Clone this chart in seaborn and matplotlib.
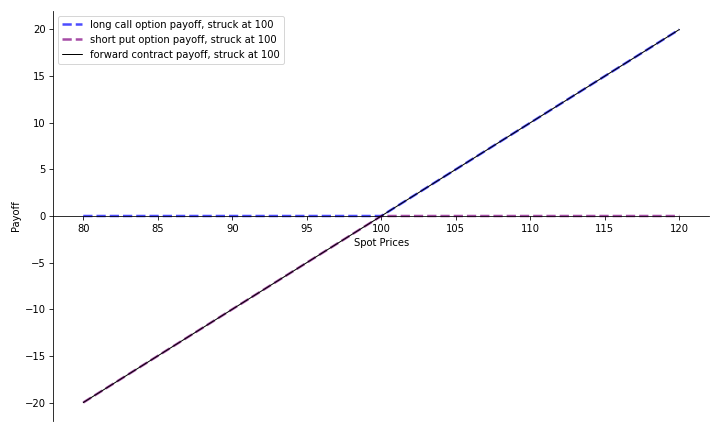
import matplotlib
matplotlib.use("Agg")
import matplotlib.pyplot as plt
import seaborn as sns

spot = [80, 100, 120]
long_call = [0, 0, 20]
short_put = [-20, 0, 0]
forward = [-20, 0, 20]

sns.set_style("white", {"axes.edgecolor": "black", "text.color": "black",
                        "axes.labelcolor": "black", "xtick.color": "black",
                        "ytick.color": "black"})
plt.rcParams['font.family'] = ['DejaVu Sans']

fig, ax = plt.subplots(figsize=(10, 6), dpi=72)
sns.lineplot(x=spot, y=long_call, ax=ax, color="blue", alpha=0.7, lw=2.5,
             linestyle="--", label="long call option payoff, struck at 100")
sns.lineplot(x=spot, y=short_put, ax=ax, color="purple", alpha=0.7, lw=2.5,
             linestyle="--", label="short put option payoff, struck at 100")
sns.lineplot(x=spot, y=forward, ax=ax, color="black", lw=1,
             label="forward contract payoff, struck at 100")

ax.spines["bottom"].set_position("zero")
ax.spines["top"].set_visible(False)
ax.spines["right"].set_visible(False)
ax.tick_params(axis="both", which="both", length=4, left=True, bottom=True)
ax.set_xlabel("Spot Prices")
ax.set_ylabel("Payoff")
ax.legend(loc="upper left")

plt.tight_layout()
plt.savefig("out.png")
